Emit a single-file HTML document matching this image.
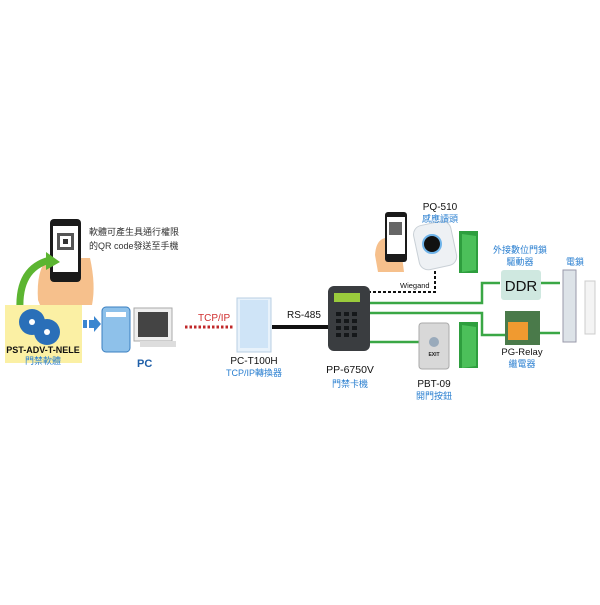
<!DOCTYPE html><html><head><meta charset="utf-8"><style>
html,body{margin:0;padding:0;background:#fff}
svg text{font-family:"Liberation Sans","Noto Sans CJK TC",sans-serif}
</style></head><body>
<svg width="600" height="600" viewBox="0 0 600 600" xmlns="http://www.w3.org/2000/svg">
<rect width="600" height="600" fill="#fff"/>
<path d="M38 300 Q36 270 48 258 L90 258 Q96 285 92 305 L40 305 Z" fill="#f6c08c"/>
<rect x="50" y="219" width="31" height="63" rx="4" fill="#1a1a1a"/>
<rect x="53" y="226" width="25" height="46" fill="#fff"/>
<rect x="57" y="233" width="17" height="17" fill="#555"/>
<rect x="60" y="236" width="11" height="11" fill="#fff"/>
<rect x="63" y="239" width="5" height="5" fill="#333"/>
<path d="M20 310 Q18 268 50 260" stroke="#5cb531" stroke-width="7" fill="none"/>
<polygon points="46,252 60,262 46,270" fill="#5cb531"/>
<rect x="5" y="305" width="77" height="58" fill="#fbf0a4"/>
<circle cx="32" cy="322" r="13" fill="#2a6fb8"/><circle cx="32" cy="322" r="3" fill="#fff"/>
<circle cx="47" cy="332" r="13" fill="#2a6fb8"/><circle cx="47" cy="332" r="3" fill="#fff"/>
<text x="43" y="353" font-size="9" font-weight="bold" text-anchor="middle" fill="#111">PST-ADV-T-NELE</text>
<text x="43" y="364" font-size="9" text-anchor="middle" fill="#2a7fd0">門禁軟體</text>
<rect x="83" y="320" width="4" height="8" fill="#3a86d0"/><rect x="89" y="320" width="5" height="8" fill="#3a86d0"/>
<polygon points="94,316 101,324 94,332" fill="#3a86d0"/>
<text x="89" y="235" font-size="9" fill="#333">軟體可產生具通行權限</text>
<text x="89" y="249" font-size="9" fill="#333">的QR code發送至手機</text>
<rect x="102" y="307" width="28" height="45" rx="4" fill="#8ec1ea" stroke="#3a7fc0"/>
<rect x="106" y="312" width="20" height="5" fill="#fff"/>
<rect x="134" y="308" width="38" height="33" fill="#eee" stroke="#aaa"/>
<rect x="138" y="312" width="30" height="25" fill="#444"/>
<rect x="140" y="341" width="36" height="6" fill="#ddd"/>
<text x="137" y="367" font-size="11" font-weight="bold" fill="#1f5fa8">PC</text>
<text x="198" y="321" font-size="10" fill="#d03030">TCP/IP</text>
<line x1="185" y1="327" x2="233" y2="327" stroke="#c0282a" stroke-width="3" stroke-dasharray="2.5,2"/>
<rect x="237" y="298" width="34" height="54" fill="#e8f2fb" stroke="#b8cfe3"/>
<rect x="240" y="300" width="28" height="48" fill="#cfe4f7"/>
<text x="254" y="364" font-size="10" text-anchor="middle" fill="#111">PC-T100H</text>
<text x="254" y="376" font-size="9" text-anchor="middle" fill="#2a7fd0">TCP/IP轉換器</text>
<line x1="272" y1="327" x2="330" y2="327" stroke="#111" stroke-width="4"/>
<text x="287" y="318" font-size="10" fill="#111">RS-485</text>
<g stroke="#3aa745" stroke-width="2.5" fill="none">
<polyline points="368,303 482,303 482,283 500,283"/>
<polyline points="368,313 482,313 482,335 505,335"/>
<polyline points="368,342 420,342"/>
<line x1="540" y1="283" x2="560" y2="283"/>
<line x1="540" y1="333" x2="560" y2="333"/>
</g>
<polyline points="368,292 435,292 435,270" stroke="#111" stroke-width="2" stroke-dasharray="3,2" fill="none"/>
<text x="400" y="288" font-size="7.5" fill="#111">Wiegand</text>
<rect x="328" y="286" width="42" height="65" rx="6" fill="#3a3d40"/>
<rect x="334" y="293" width="26" height="9" fill="#9acb3c"/>
<g fill="#15181a">
<rect x="336" y="312" width="5" height="4"/><rect x="344" y="312" width="5" height="4"/><rect x="352" y="312" width="5" height="4"/>
<rect x="336" y="319" width="5" height="4"/><rect x="344" y="319" width="5" height="4"/><rect x="352" y="319" width="5" height="4"/>
<rect x="336" y="326" width="5" height="4"/><rect x="344" y="326" width="5" height="4"/><rect x="352" y="326" width="5" height="4"/>
<rect x="336" y="333" width="5" height="4"/><rect x="344" y="333" width="5" height="4"/><rect x="352" y="333" width="5" height="4"/>
</g>
<text x="350" y="373" font-size="10.5" text-anchor="middle" fill="#111">PP-6750V</text>
<text x="350" y="387" font-size="9" text-anchor="middle" fill="#2a7fd0">門禁卡機</text>
<path d="M375 255 Q376 240 385 238 L400 240 L404 272 L378 272 Z" fill="#f6c08c"/>
<rect x="385" y="212" width="22" height="50" rx="3" fill="#1a1a1a"/>
<rect x="387" y="217" width="18" height="37" fill="#fff"/>
<rect x="389" y="222" width="13" height="13" fill="#666"/>
<rect x="416" y="223" width="38" height="45" rx="9" fill="#eef1f4" stroke="#c9d0d6" transform="rotate(-12 435 245)"/>
<circle cx="432" cy="244" r="9" fill="#111" stroke="#6fb4ea" stroke-width="2"/>
<text x="440" y="210" font-size="10" text-anchor="middle" fill="#111">PQ-510</text>
<text x="440" y="222" font-size="9" text-anchor="middle" fill="#2a7fd0">感應讀頭</text>
<rect x="459" y="231" width="19" height="42" fill="#2e9e3e"/>
<polygon points="462,234 476,236 476,270 462,272" fill="#4cc05a"/>
<rect x="459" y="322" width="19" height="46" fill="#2e9e3e"/>
<polygon points="462,325 476,327 476,366 462,368" fill="#4cc05a"/>
<rect x="419" y="323" width="30" height="46" rx="3" fill="#d8d8d8" stroke="#aaa"/>
<circle cx="434" cy="342" r="5" fill="#9ab"/>
<text x="434" y="356" font-size="5" font-weight="bold" text-anchor="middle" fill="#222">EXIT</text>
<text x="434" y="387" font-size="10" text-anchor="middle" fill="#111">PBT-09</text>
<text x="434" y="399" font-size="9" text-anchor="middle" fill="#2a7fd0">開門按鈕</text>
<text x="520" y="253" font-size="9" text-anchor="middle" fill="#2a7fd0">外接數位門鎖</text>
<text x="520" y="265" font-size="9" text-anchor="middle" fill="#2a7fd0">驅動器</text>
<rect x="501" y="270" width="40" height="30" rx="3" fill="#cfe8e0"/>
<text x="521" y="291" font-size="15" text-anchor="middle" fill="#111">DDR</text>
<rect x="505" y="311" width="35" height="34" fill="#4a7a4a"/>
<rect x="508" y="322" width="20" height="18" fill="#f09a30"/>
<text x="522" y="355" font-size="9.5" text-anchor="middle" fill="#111">PG-Relay</text>
<text x="522" y="367" font-size="9" text-anchor="middle" fill="#2a7fd0">繼電器</text>
<text x="575" y="265" font-size="9" text-anchor="middle" fill="#2a7fd0">電鎖</text>
<rect x="563" y="270" width="13" height="72" fill="#dde3e8" stroke="#99a"/>
<rect x="585" y="281" width="10" height="53" fill="#f4f4f4" stroke="#ccc"/>
</svg>
</body></html>
